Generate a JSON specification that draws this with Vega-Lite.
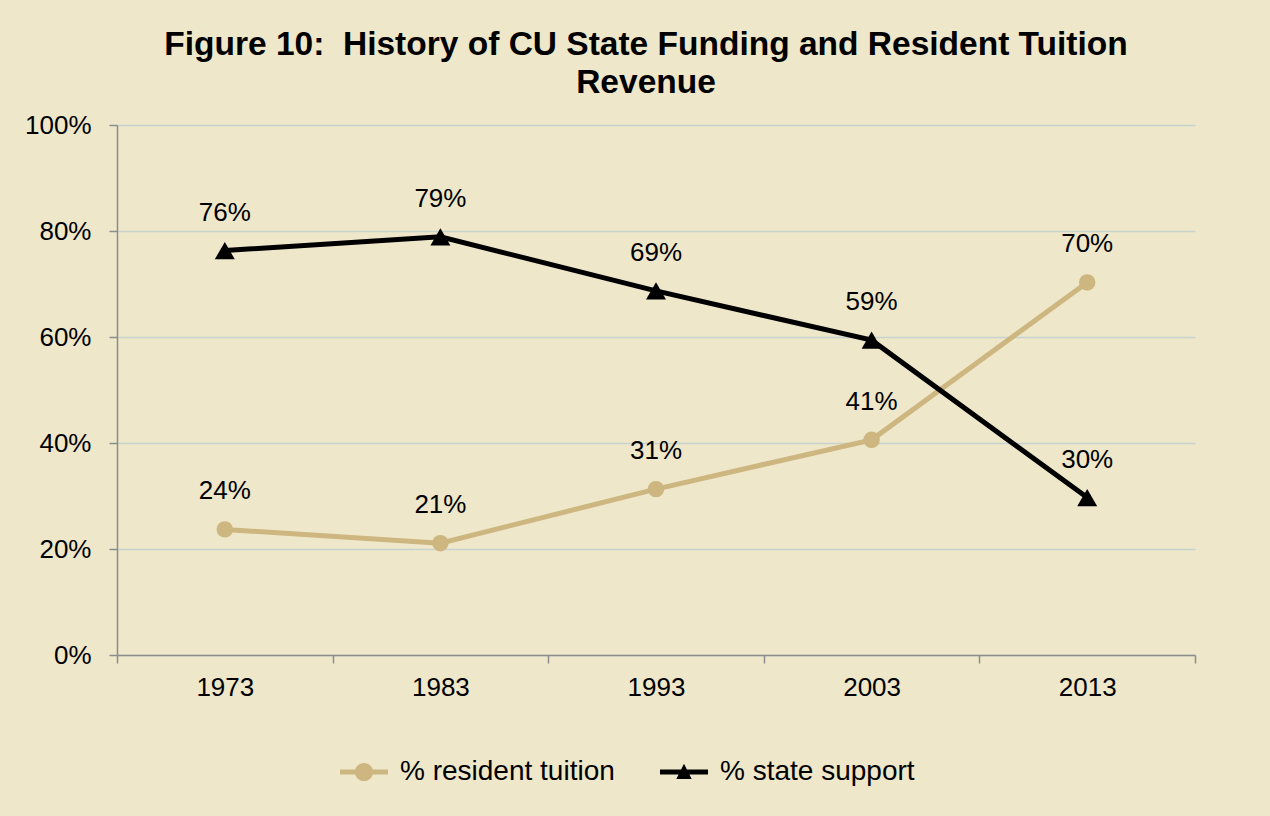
{
  "$schema": "https://vega.github.io/schema/vega-lite/v6.json",
  "width": 1078,
  "height": 530,
  "autosize": {"type": "none"},
  "padding": {"left": 117, "top": 125, "right": 75, "bottom": 161},
  "background": "#EEE7CA",
  "config": {"view": {"stroke": null}, "font": "Liberation Sans"},
  "title": {
    "text": ["Figure 10:\u00a0\u00a0History of CU State Funding and Resident Tuition", "Revenue"],
    "fontSize": 33.5,
    "fontWeight": "bold",
    "font": "Liberation Sans",
    "color": "#000000",
    "anchor": "middle",
    "frame": "group",
    "lineHeight": 38,
    "offset": 12,
    "dx": -10
  },
  "data": {
    "values": [
      {"year": "1973", "series": "% resident tuition", "value": 0.237},
      {"year": "1983", "series": "% resident tuition", "value": 0.211},
      {"year": "1993", "series": "% resident tuition", "value": 0.313},
      {"year": "2003", "series": "% resident tuition", "value": 0.406},
      {"year": "2013", "series": "% resident tuition", "value": 0.703},
      {"year": "1973", "series": "% state support", "value": 0.763},
      {"year": "1983", "series": "% state support", "value": 0.789},
      {"year": "1993", "series": "% state support", "value": 0.687},
      {"year": "2003", "series": "% state support", "value": 0.594},
      {"year": "2013", "series": "% state support", "value": 0.297}
    ]
  },
  "encoding": {
    "x": {
      "field": "year",
      "type": "ordinal",
      "scale": {"type": "band", "paddingInner": 0, "paddingOuter": 0},
      "axis": {
        "title": null,
        "labelAngle": 0,
        "labelFontSize": 26,
        "labelColor": "#000000",
        "labelFont": "Liberation Sans",
        "labelPadding": 11,
        "tickBand": "extent",
        "tickSize": 8,
        "tickColor": "#8C8C8C",
        "domainColor": "#8C8C8C",
        "domainWidth": 1.5,
        "tickWidth": 1.5,
        "grid": false
      }
    },
    "y": {
      "field": "value",
      "type": "quantitative",
      "scale": {"domain": [0, 1], "nice": false},
      "axis": {
        "title": null,
        "values": [0, 0.2, 0.4, 0.6, 0.8, 1],
        "format": ".0%",
        "labelFontSize": 26,
        "labelColor": "#000000",
        "labelFont": "Liberation Sans",
        "labelPadding": 18,
        "tickSize": 8,
        "tickColor": "#8C8C8C",
        "domainColor": "#8C8C8C",
        "domainWidth": 1.5,
        "tickWidth": 1.5,
        "grid": true,
        "gridColor": "#C9D2CE",
        "gridWidth": 1.5
      }
    },
    "color": {
      "field": "series",
      "type": "nominal",
      "scale": {"domain": ["% resident tuition", "% state support"], "range": ["#CDB67F", "#000000"]},
      "legend": {
        "orient": "none",
        "legendX": 223,
        "legendY": 623,
        "direction": "horizontal",
        "title": null,
        "symbolSize": 2304,
        "labelFontSize": 28,
        "labelColor": "#000000",
        "labelFont": "Liberation Sans",
        "labelOffset": 12,
        "labelLimit": 500,
        "columnPadding": 45,
        "encode": {
          "symbols": {
            "update": {
              "shape": {"signal": "datum.value === '% resident tuition' ? 'M-1,-0.1H1V0.1H-1Z M-0.38,0 A0.38,0.38 0 1,1 0.38,0 A0.38,0.38 0 1,1 -0.38,0 Z' : 'M-1,-0.1H1V0.1H-1Z M0,-0.34 L0.32,0.29 L-0.32,0.29 Z'"},
              "fill": {"signal": "datum.value === '% resident tuition' ? '#CDB67F' : '#000000'"},
              "stroke": {"value": "transparent"},
              "strokeWidth": {"value": 0},
              "opacity": {"value": 1}
            }
          }
        }
      }
    }
  },
  "layer": [
    {
      "mark": {"type": "line", "strokeWidth": 5}
    },
    {
      "transform": [{"filter": "datum.series === '% resident tuition'"}],
      "mark": {"type": "point", "shape": "circle", "filled": true, "size": 270, "opacity": 1}
    },
    {
      "transform": [{"filter": "datum.series === '% state support'"}],
      "mark": {"type": "point", "shape": "triangle-up", "filled": true, "size": 400, "opacity": 1}
    },
    {
      "mark": {"type": "text", "fontSize": 26, "font": "Liberation Sans", "color": "#000000", "dy": -38, "baseline": "middle"},
      "encoding": {
        "text": {"field": "value", "type": "quantitative", "format": ".0%"},
        "color": {"value": "#000000"}
      }
    }
  ]
}
